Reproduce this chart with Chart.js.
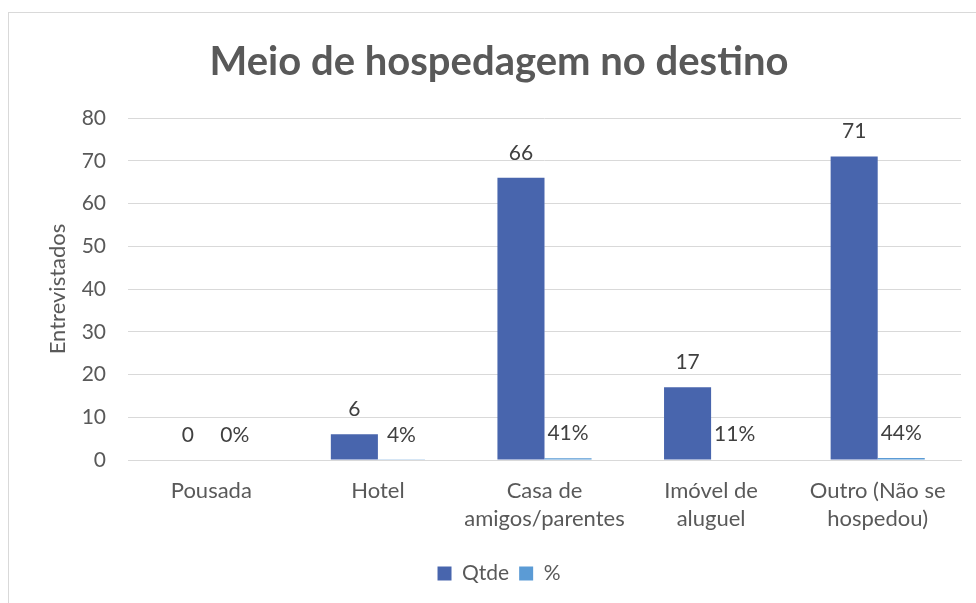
<!DOCTYPE html>
<html>
<head>
<meta charset="utf-8">
<script src="https://cdn.jsdelivr.net/npm/chart.js@4.4.1/dist/chart.umd.min.js"></script>
<style>
  html, body { margin: 0; padding: 0; background: #fff; }
  #wrap { position: relative; width: 976px; height: 603px; overflow: hidden; }
  #frame { position: absolute; left: 8px; top: 12px; width: 1000px; height: 700px; border: 1px solid #d9d9d9; }
  canvas { position: absolute; left: 0; top: 0; }
</style>
</head>
<body>
<div id="wrap">
  <div id="frame"></div>
  <canvas id="chart_hosp" width="976" height="603"></canvas>
</div>
<script>
const categorias = [
  'Pousada',
  'Hotel',
  ['Casa de', 'amigos/parentes'],
  ['Imóvel de', 'aluguel'],
  ['Outro (Não se', 'hospedou)']
];
const qtde = [0, 6, 66, 17, 71];
const percentual = [0, 0.04, 0.41, 0.11, 0.44];
const yTicks = [0, 10, 20, 30, 40, 50, 60, 70, 80];

const FONT = 'Lato, "Open Sans", sans-serif';

// rótulos de dados acima das barras
const rotulos = {
  id: 'rotulos',
  afterDatasetsDraw(chart) {
    const ctx = chart.ctx;
    ctx.save();
    ctx.font = '21px ' + FONT;
    ctx.fillStyle = '#404040';
    ctx.textAlign = 'center';
    ctx.textBaseline = 'middle';
    chart.data.datasets.forEach((ds, i) => {
      const meta = chart.getDatasetMeta(i);
      meta.data.forEach((el, j) => {
        const v = ds.data[j];
        const txt = i === 1 ? Math.round(v * 100) + '%' : String(v);
        ctx.fillText(txt, el.x, el.y - 25);
      });
    });
    ctx.restore();
  }
};

const ctxHosp = document.getElementById('chart_hosp');
const hospChart = new Chart(ctxHosp, {
  type: 'bar',
  data: {
    labels: categorias,
    datasets: [
      {
        label: 'Qtde',
        data: qtde,
        backgroundColor: '#4865ad',
        categoryPercentage: 0.565,
        barPercentage: 1
      },
      {
        label: '%',
        data: percentual,
        backgroundColor: '#5b9bd5',
        categoryPercentage: 0.565,
        barPercentage: 1
      }
    ]
  },
  options: {
    responsive: false,
    animation: false,
    layout: {
      padding: { top: 0, left: 37, right: 15, bottom: 9 }
    },
    plugins: {
      title: {
        display: true,
        text: 'Meio de hospedagem no destino',
        color: '#595959',
        font: { family: FONT, size: 40, weight: 'bold', lineHeight: 1.2 },
        padding: { top: 38, bottom: 32 }
      },
      legend: {
        position: 'bottom',
        labels: {
          color: '#595959',
          font: { family: FONT, size: 21 },
          boxWidth: 14,
          boxHeight: 14,
          padding: 10
        }
      },
      tooltip: { enabled: false }
    },
    scales: {
      x: {
        grid: { display: false },
        border: { display: true, color: '#d9d9d9' },
        afterFit(axis) { axis.height = 93; },
        ticks: {
          color: '#595959',
          font: { family: FONT, size: 22, lineHeight: 1.27 },
          maxRotation: 0,
          padding: 9
        }
      },
      y: {
        min: 0,
        max: 80,
        afterBuildTicks(axis) { axis.ticks = yTicks.map(v => ({ value: v })); },
        afterFit(axis) { axis.width = 91; },
        grid: { color: '#d9d9d9', drawTicks: false },
        border: { display: false },
        ticks: {
          color: '#595959',
          font: { family: FONT, size: 21 },
          padding: 22
        },
        title: {
          display: true,
          text: 'Entrevistados',
          color: '#595959',
          font: { family: FONT, size: 22, lineHeight: 1.2 },
          padding: { top: 8, bottom: 0 }
        }
      }
    }
  },
  plugins: [rotulos]
});
</script>
</body>
</html>
